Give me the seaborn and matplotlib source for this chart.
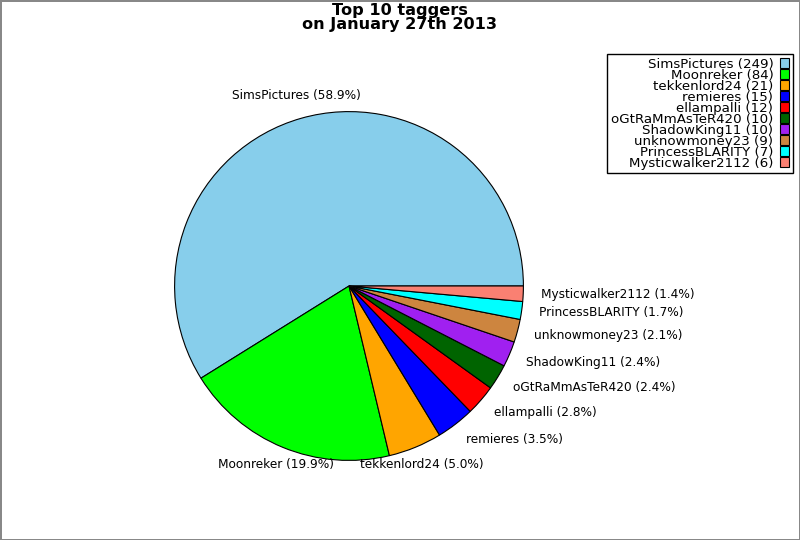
import seaborn as sns
import matplotlib.pyplot as plt
from matplotlib.patches import Patch

taggers = ['SimsPictures', 'Moonreker', 'tekkenlord24', 'remieres', 'ellampalli',
           'oGtRaMmAsTeR420', 'ShadowKing11', 'unknowmoney23', 'PrincessBLARITY',
           'Mysticwalker2112']
counts = [249, 84, 21, 15, 12, 10, 10, 9, 7, 6]
colors = ['#87ceeb', '#00ff00', '#ffa500', '#0000ff', '#ff0000',
          '#006400', '#a020f0', '#cd853f', '#00ffff', '#fa8072']

sns.set_style('white')
plt.rcParams['font.family'] = ['DejaVu Sans']
plt.rcParams['text.color'] = 'black'
palette = sns.color_palette(colors)

total = sum(counts)
pie_labels = ['%s (%.1f%%)' % (n, 100.0 * c / total) for n, c in zip(taggers, counts)]
legend_labels = ['%s (%d)' % (n, c) for n, c in zip(taggers, counts)]

fig = plt.figure(figsize=(8, 5.4), dpi=100, edgecolor='#888888', linewidth=2)
ax = fig.add_axes([131 / 800, 36 / 540, 436 / 800, 436 / 540])
wedges, texts = ax.pie(counts, labels=pie_labels, colors=palette, startangle=0,
                       wedgeprops={'edgecolor': 'black', 'linewidth': 0.8},
                       textprops={'fontsize': 8.7, 'color': 'black'})
ax.set_aspect('equal')

# labels near the top/bottom are centred over their wedge
for t in texts:
    x, y = t.get_position()
    r = (x * x + y * y) ** 0.5
    if abs(x) / r < 0.5:
        t.set_ha('center')
    if y / r > 0.5:
        t.set_va('bottom')
    elif y / r < -0.3:
        t.set_va('center_baseline')

fig.text(0.5, 0.995, 'Top 10 taggers\non January 27th 2013', ha='center', va='top',
         fontsize=11.6, fontweight='bold', linespacing=0.9, color='black')

handles = [Patch(facecolor=c, edgecolor='black', linewidth=0.8) for c in palette]
fig.legend(handles, legend_labels, loc='upper right', bbox_to_anchor=(793 / 800, 1 - 54 / 540),
           markerfirst=False, fontsize=9.6, fancybox=False, edgecolor='black',
           framealpha=1, labelspacing=-0.15, handlelength=0.7, handleheight=0.7,
           handletextpad=0.5, borderpad=0.28, borderaxespad=0)
plt.savefig('out.png', dpi=100, edgecolor=fig.get_edgecolor())
